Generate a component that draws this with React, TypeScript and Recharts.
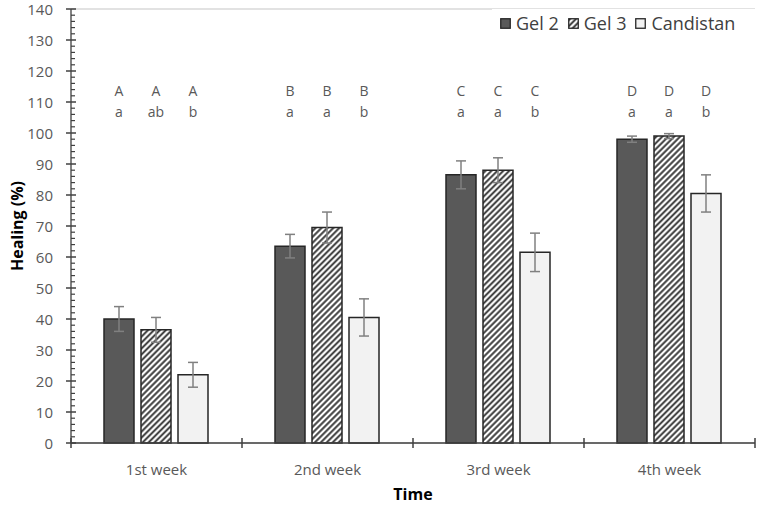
import {
  Bar,
  BarChart,
  CartesianGrid,
  ErrorBar,
  LabelList,
  Legend,
  XAxis,
  YAxis,
} from "recharts"

const weeks = ["1st week", "2nd week", "3rd week", "4th week"]
const gel2 = [40, 63.5, 86.5, 98]
const gel2Err = [4, 3.8, 4.5, 1]
const gel3 = [36.5, 69.5, 88, 99]
const gel3Err = [4, 5, 4, 0.8]
const candistan = [22, 40.5, 61.5, 80.5]
const candistanErr = [4, 6, 6.2, 6]

// significance letters: upper = across weeks, lower = within a week
const weekLetters = ["A", "B", "C", "D"]
const gel2Letters = ["a", "a", "a", "a"]
const gel3Letters = ["ab", "a", "a", "a"]
const candistanLetters = ["b", "b", "b", "b"]
const letterLevel = 110

const yMajor = [0, 10, 20, 30, 40, 50, 60, 70, 80, 90, 100, 110, 120, 130, 140]
const yAll = Array.from({ length: 71 }, (_, i) => i * 2)

const data = weeks.map((week, i) => ({
  week,
  gel2: gel2[i],
  gel2Err: gel2Err[i],
  gel3: gel3[i],
  gel3Err: gel3Err[i],
  candistan: candistan[i],
  candistanErr: candistanErr[i],
}))

const axisColor = "#404040"
const textColor = "#595959"
const barStroke = "#262626"

const legendItems = [
  { name: "Gel 2", fill: "#595959" },
  { name: "Gel 3", fill: "url(#hatch)" },
  { name: "Candistan", fill: "#f2f2f2" },
]

function YTick(props: any) {
  const { x, y, payload } = props
  const v = payload.value
  const major = v % 10 === 0
  const d = major ? `M${x - 5},${y}H${x + 5}` : `M${x},${y}H${x + 4}`
  return (
    <g>
      <path d={d} stroke={axisColor} strokeWidth={major ? 1.5 : 1.2} fill="none" />
      {major && (
        <text
          x={x - 18}
          y={y}
          textAnchor="end"
          dominantBaseline="central"
          fill={textColor}
          stroke="none"
          fontSize={15}
        >
          {v}
        </text>
      )}
    </g>
  )
}

function XTick(props: any) {
  const { x, y, payload, index, visibleTicksCount, width } = props
  const half = payload.offset ?? width / visibleTicksCount / 2
  let d = `M${x - half},${y - 5}V${y + 5}`
  if (index === visibleTicksCount - 1) d += `M${x + half},${y - 5}V${y + 5}`
  return (
    <g>
      <path d={d} stroke={axisColor} strokeWidth={1.5} fill="none" />
      <text
        x={x}
        y={y + 26}
        textAnchor="middle"
        dominantBaseline="central"
        fill={textColor}
        stroke="none"
        fontSize={15}
      >
        {payload.value}
      </text>
    </g>
  )
}

const letters = (values: number[], lower: string[]) => (props: any) => {
  const vb = props.viewBox ?? props
  const i = props.index
  const base = vb.y + vb.height
  const yRef = base - (letterLevel * vb.height) / values[i]
  const cx = vb.x + vb.width / 2
  const w = lower[i].length > 1 ? 24 : 20
  return (
    <g>
      <rect x={cx - w / 2} y={yRef - 21} width={w} height={40} fill="#fff" />
      <text x={cx} y={yRef - 12} textAnchor="middle" dominantBaseline="central" fill={textColor} fontSize={14}>
        {weekLetters[i]}
      </text>
      <text x={cx} y={yRef + 9} textAnchor="middle" dominantBaseline="central" fill={textColor} fontSize={14}>
        {lower[i]}
      </text>
    </g>
  )
}

function LegendBox() {
  return (
    <div
      style={{
        display: "flex",
        alignItems: "center",
        gap: 9,
        padding: "3px 20px 3px 8px",
        background: "#fff",
        color: "#404040",
        fontSize: 18,
        lineHeight: "22px",
      }}
    >
      {legendItems.map((it) => (
        <span key={it.name} style={{ display: "flex", alignItems: "center", gap: 5 }}>
          <svg width={11} height={11}>
            <rect x={0.75} y={0.75} width={9.5} height={9.5} fill={it.fill} stroke={barStroke} strokeWidth={1.3} />
          </svg>
          {it.name}
        </span>
      ))}
    </div>
  )
}

export default function App() {
  return (
    <div
      style={{
        position: "absolute",
        left: 0,
        top: 0,
        width: 760,
        height: 505,
        background: "#fff",
        fontFamily: "'Open Sans', sans-serif",
      }}
    >
      <svg width={0} height={0} style={{ position: "absolute" }}>
        <defs>
          <pattern id="hatch" width={4.2} height={4.2} patternUnits="userSpaceOnUse" patternTransform="rotate(45)">
            <rect width={4.2} height={4.2} fill="#fff" />
            <line x1={2.1} y1={0} x2={2.1} y2={4.2} stroke="#333" strokeWidth={1.9} />
          </pattern>
        </defs>
      </svg>
      <BarChart
        width={760}
        height={505}
        data={data}
        margin={{ top: 9, right: 5, left: 0, bottom: 0 }}
        barCategoryGap={33}
        barGap={7}
      >
        <CartesianGrid yAxisId="right" vertical={false} stroke="#d9d9d9" strokeWidth={1.5} />
        <XAxis
          dataKey="week"
          height={62}
          tick={<XTick />}
          tickLine={false}
          tickSize={0}
          tickMargin={0}
          axisLine={{ stroke: axisColor, strokeWidth: 1.3 }}
          label={{
            value: "Time",
            position: "insideBottom",
            offset: 5,
            fill: "#000",
            fontSize: 16,
            fontWeight: 700,
          }}
        />
        <XAxis
          xAxisId="top"
          dataKey="week"
          orientation="top"
          height={0}
          tick={false}
          tickLine={false}
          axisLine={{ stroke: axisColor, strokeWidth: 1.3 }}
        />
        <YAxis
          type="number"
          domain={[0, 140]}
          ticks={yAll}
          interval={0}
          width={71}
          tick={<YTick />}
          tickLine={false}
          tickSize={0}
          tickMargin={0}
          axisLine={{ stroke: axisColor, strokeWidth: 1.3 }}
          label={{
            value: "Healing (%)",
            angle: -90,
            position: "insideLeft",
            offset: 17,
            fill: "#000",
            fontSize: 16,
            fontWeight: 700,
            style: { textAnchor: "middle" },
          }}
        />
        <YAxis
          yAxisId="right"
          orientation="right"
          type="number"
          domain={[0, 140]}
          ticks={yMajor}
          width={0}
          tick={false}
          tickLine={false}
          axisLine={{ stroke: axisColor, strokeWidth: 1.3 }}
        />
        <Legend
          layout="horizontal"
          verticalAlign="middle"
          align="center"
          content={<LegendBox />}
          wrapperStyle={{ top: 9, left: 492, width: "auto", height: "auto" }}
        />
        <Bar dataKey="gel2" name="Gel 2" fill="#595959" stroke={barStroke} strokeWidth={1.5} isAnimationActive={false}>
          <ErrorBar dataKey="gel2Err" width={5} stroke="#808080" strokeWidth={1.5} isAnimationActive={false} />
          <LabelList dataKey="gel2" content={letters(gel2, gel2Letters)} />
        </Bar>
        <Bar dataKey="gel3" name="Gel 3" fill="url(#hatch)" stroke={barStroke} strokeWidth={1.5} isAnimationActive={false}>
          <ErrorBar dataKey="gel3Err" width={5} stroke="#808080" strokeWidth={1.5} isAnimationActive={false} />
          <LabelList dataKey="gel3" content={letters(gel3, gel3Letters)} />
        </Bar>
        <Bar dataKey="candistan" name="Candistan" fill="#f2f2f2" stroke={barStroke} strokeWidth={1.5} isAnimationActive={false}>
          <ErrorBar dataKey="candistanErr" width={5} stroke="#808080" strokeWidth={1.5} isAnimationActive={false} />
          <LabelList dataKey="candistan" content={letters(candistan, candistanLetters)} />
        </Bar>
      </BarChart>
    </div>
  )
}
